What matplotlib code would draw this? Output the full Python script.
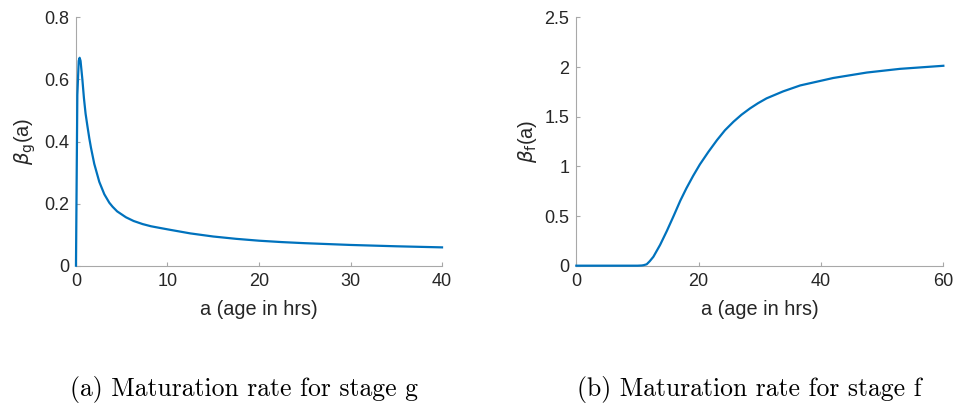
import matplotlib
matplotlib.use('Agg')
import matplotlib.pyplot as plt

# stage g maturation rate
age_g = [0, 0.15, 0.3, 0.4, 0.5, 0.7, 0.87, 1.05, 1.25, 1.46, 1.64, 2.0, 2.55, 3.1,
         3.64, 4.0, 4.5, 5.46, 6.3, 7.29, 8.2, 9.1, 10.3, 12.5, 15.0, 17.5, 20.0,
         22.5, 25.0, 30.0, 35.0, 40.0]
beta_g = [0, 0.55, 0.66, 0.67, 0.66, 0.60, 0.54, 0.49, 0.45, 0.41, 0.38, 0.328, 0.27,
          0.23, 0.203, 0.19, 0.175, 0.156, 0.144, 0.134, 0.127, 0.122, 0.1155, 0.104,
          0.094, 0.0865, 0.0805, 0.076, 0.0725, 0.0668, 0.0625, 0.059]

# stage f maturation rate
age_f = [0, 5, 10, 10.7, 11.0, 11.5, 12.0, 12.6, 13.7, 14.8, 15.9, 17.0, 18.0, 19.1,
         20.2, 21.6, 23.0, 24.3, 25.7, 27.0, 28.4, 29.7, 31.1, 33.8, 36.6, 42.0,
         47.5, 52.9, 60.0]
beta_f = [0, 0, 0, 0.002, 0.005, 0.014, 0.045, 0.09, 0.21, 0.35, 0.50, 0.655, 0.78,
          0.905, 1.02, 1.147, 1.265, 1.364, 1.45, 1.52, 1.584, 1.636, 1.685, 1.755,
          1.815, 1.89, 1.945, 1.982, 2.013]

xticks_g = [0, 10, 20, 30, 40]
yticks_g = [0, 0.2, 0.4, 0.6, 0.8]
xticks_f = [0, 20, 40, 60]
yticks_f = [0, 0.5, 1, 1.5, 2, 2.5]

captions = ['(a) Maturation rate for stage g', '(b) Maturation rate for stage f']

plt.rcParams['font.family'] = ['Liberation Sans', 'DejaVu Sans']
plt.rcParams['mathtext.fontset'] = 'dejavusans'

line_color = '#0072BD'
spine_color = '#a8a8a8'
text_color = '#262626'

fig = plt.figure(figsize=(9.58, 4.05), dpi=100)
ax1 = fig.add_axes([0.0793, 0.344, 0.3821, 0.613])
ax2 = fig.add_axes([0.6016, 0.344, 0.3831, 0.613])


def style(ax, xticks, yticks, ylabel):
    ax.set_xlim(xticks[0], xticks[-1])
    ax.set_ylim(yticks[0], yticks[-1])
    ax.set_xticks(xticks)
    ax.set_yticks(yticks)
    ax.set_xticklabels([f'{t:g}' for t in xticks])
    ax.set_yticklabels([f'{t:g}' for t in yticks])
    for side in ['top', 'right']:
        ax.spines[side].set_visible(False)
    for side in ['left', 'bottom']:
        ax.spines[side].set_color(spine_color)
        ax.spines[side].set_linewidth(0.8)
    ax.tick_params(direction='in', length=3, width=0.8, color=spine_color,
                   labelsize=13, labelcolor=text_color, pad=5)
    ax.set_xlabel('a (age in hrs)', fontsize=14.3, color=text_color, labelpad=7.5)
    ax.set_ylabel(ylabel, fontsize=14.3, color=text_color, labelpad=4)


ax1.plot(age_g, beta_g, color=line_color, lw=1.6, solid_joinstyle='round',
         zorder=3, clip_on=False)
style(ax1, xticks_g, yticks_g, r'$\beta_{\mathrm{g}}$(a)')

ax2.plot(age_f, beta_f, color=line_color, lw=1.6, solid_joinstyle='round',
         zorder=3, clip_on=False)
style(ax2, xticks_f, yticks_f, r'$\beta_{\mathrm{f}}$(a)')

fig.text(244 / 958, 9 / 405, captions[0], family='cmr10', fontsize=18.5,
         ha='center', va='baseline', color='black')
fig.text(749 / 958, 9 / 405, captions[1], family='cmr10', fontsize=18.5,
         ha='center', va='baseline', color='black')

fig.savefig('out.png', dpi=100, facecolor='white')
